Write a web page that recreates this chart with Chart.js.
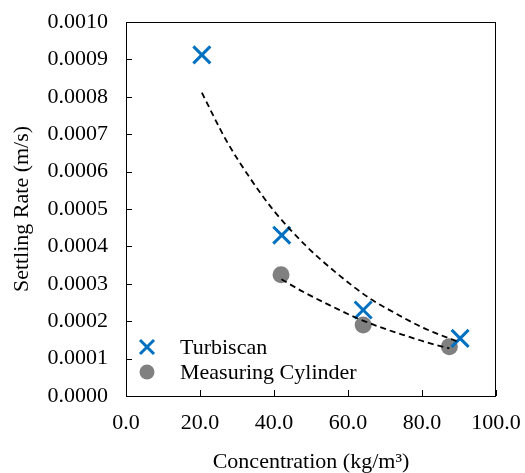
<!DOCTYPE html>
<html>
<head>
    <title>Settling Rate vs Concentration</title>
    <style>
        body {
            margin: 0;
            background: #FFFFFF;
        }

        .wrap {
            width: 525px;
            height: 473px;
        }
    </style>
    <script src="https://cdn.jsdelivr.net/npm/chart.js"></script>
</head>
<body>
    <div class="wrap">
        <canvas id="settling-chart" width="525" height="473"></canvas>
    </div>
    <script>
        // measured points
        const turbiscanX = [20.5, 42.1, 64.1, 90.3];
        const turbiscanY = [0.000912, 0.00043, 0.00023, 0.000154];
        const cylinderX = [41.9, 64.1, 87.4];
        const cylinderY = [0.000324, 0.00019, 0.000132];

        // dashed trend curves
        const trendTurbX = [20.5, 27, 33.5, 40, 48.8, 57, 66, 71, 80.4, 89.5];
        const trendTurbY = [0.000811, 0.000685, 0.000583, 0.000495, 0.0004, 0.000328, 0.00026, 0.000231, 0.000182, 0.000146];
        const trendCylX = [42, 48, 55, 62, 66, 71, 76, 80.4, 85.8, 87.4];
        const trendCylY = [0.000312, 0.000278, 0.000243, 0.00021, 0.000194, 0.000176, 0.00016, 0.000146, 0.000131, 0.000128];

        const xTicks = [0, 20, 40, 60, 80, 100];
        const yTicks = [0, 0.0001, 0.0002, 0.0003, 0.0004, 0.0005, 0.0006, 0.0007, 0.0008, 0.0009, 0.001];

        const legendNames = ['Turbiscan', 'Measuring Cylinder'];

        const FONT = 'Liberation Serif';
        const BLUE = '#0070C0';
        const GREY = '#808080';

        function pairs(xs, ys) {
            return xs.map((x, i) => ({ x: x, y: ys[i] }));
        }

        // box around plot, inward ticks and the legend inside the plot
        const framePlugin = {
            id: 'frame',
            afterDraw(chart) {
                const ctx = chart.ctx;
                const a = chart.chartArea;
                const xs = chart.scales.x;
                const ys = chart.scales.y;
                ctx.save();
                ctx.strokeStyle = '#000';
                ctx.lineWidth = 1;
                ctx.strokeRect(a.left + 0.5, a.top + 0.5, a.right - a.left - 1, a.bottom - a.top);
                ctx.beginPath();
                xTicks.forEach(v => {
                    const px = Math.round(xs.getPixelForValue(v)) + 0.5;
                    ctx.moveTo(px, a.bottom);
                    ctx.lineTo(px, a.bottom - 6);
                });
                yTicks.forEach(v => {
                    const py = Math.round(ys.getPixelForValue(v)) + 0.5;
                    ctx.moveTo(a.left, py);
                    ctx.lineTo(a.left + 6, py);
                });
                ctx.stroke();

                // legend
                const lx = a.left + 21;
                const ly = [a.bottom - 49, a.bottom - 24];
                ctx.strokeStyle = BLUE;
                ctx.lineWidth = 3;
                ctx.beginPath();
                ctx.moveTo(lx - 7, ly[0] - 7);
                ctx.lineTo(lx + 7, ly[0] + 7);
                ctx.moveTo(lx + 7, ly[0] - 7);
                ctx.lineTo(lx - 7, ly[0] + 7);
                ctx.stroke();
                ctx.fillStyle = GREY;
                ctx.beginPath();
                ctx.arc(lx, ly[1], 7.5, 0, Math.PI * 2);
                ctx.fill();
                ctx.fillStyle = '#000';
                ctx.font = '22px "' + FONT + '"';
                ctx.textBaseline = 'middle';
                ctx.textAlign = 'left';
                legendNames.forEach((name, i) => ctx.fillText(name, a.left + 54, ly[i] + 1));
                ctx.restore();
            }
        };

        const ctx = document.getElementById('settling-chart').getContext('2d');
        const chart = new Chart(ctx, {
            type: 'scatter',
            data: {
                datasets: [{
                    label: 'trend1',
                    type: 'line',
                    data: pairs(trendTurbX, trendTurbY),
                    borderColor: '#000',
                    borderWidth: 1.8,
                    borderDash: [6, 4],
                    pointRadius: 0,
                    cubicInterpolationMode: 'monotone',
                    fill: false
                }, {
                    label: 'trend2',
                    type: 'line',
                    data: pairs(trendCylX, trendCylY),
                    borderColor: '#000',
                    borderWidth: 1.8,
                    borderDash: [6, 4],
                    pointRadius: 0,
                    cubicInterpolationMode: 'monotone',
                    fill: false
                }, {
                    label: legendNames[0],
                    data: pairs(turbiscanX, turbiscanY),
                    pointStyle: 'crossRot',
                    pointRadius: 12,
                    borderColor: BLUE,
                    backgroundColor: BLUE,
                    pointBorderWidth: 3
                }, {
                    label: legendNames[1],
                    data: pairs(cylinderX, cylinderY),
                    pointStyle: 'circle',
                    pointRadius: 8.5,
                    borderColor: GREY,
                    backgroundColor: GREY,
                    pointBorderWidth: 0
                }]
            },
            options: {
                responsive: false,
                animation: false,
                layout: {
                    padding: { top: 22, right: 29, left: 0, bottom: 0 }
                },
                plugins: {
                    legend: { display: false },
                    tooltip: { enabled: false }
                },
                scales: {
                    x: {
                        type: 'linear',
                        min: 0,
                        max: 100,
                        afterFit(scale) {
                            scale.height = 77;
                            scale.paddingLeft = 0;
                            scale.paddingRight = 0;
                        },
                        afterBuildTicks(scale) { scale.ticks = xTicks.map(v => ({ value: v })); },
                        grid: { display: false, drawTicks: false },
                        border: { display: false },
                        ticks: {
                            padding: 14,
                            color: '#000',
                            font: { family: FONT, size: 22 },
                            maxRotation: 0,
                            callback: v => v.toFixed(1)
                        },
                        title: {
                            display: true,
                            text: 'Concentration (kg/m³)',
                            color: '#000',
                            font: { family: FONT, size: 22, lineHeight: 1 },
                            padding: { top: 0, bottom: 0 }
                        }
                    },
                    y: {
                        type: 'linear',
                        min: 0,
                        max: 0.001,
                        afterFit(scale) {
                            scale.width = 126;
                            scale.paddingTop = 0;
                            scale.paddingBottom = 0;
                        },
                        afterBuildTicks(scale) { scale.ticks = yTicks.map(v => ({ value: v })); },
                        grid: { display: false, drawTicks: false },
                        border: { display: false },
                        ticks: {
                            padding: 18,
                            color: '#000',
                            font: { family: FONT, size: 22 },
                            callback: v => v.toFixed(4)
                        },
                        title: {
                            display: true,
                            text: 'Settling Rate (m/s)',
                            color: '#000',
                            font: { family: FONT, size: 22, lineHeight: 1 },
                            padding: { top: 11, bottom: 0 }
                        }
                    }
                }
            },
            plugins: [framePlugin]
        });
    </script>
</body>
</html>
